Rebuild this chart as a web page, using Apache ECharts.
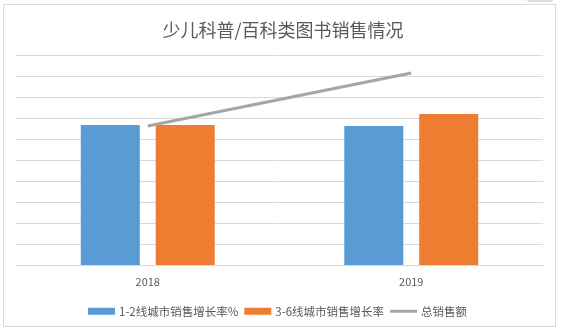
<!DOCTYPE html>
<html>
<head>
<meta charset="utf-8">
<script src="https://cdn.jsdelivr.net/npm/echarts@6/dist/echarts.min.js"></script>
<style>html,body{margin:0;padding:0;background:#fff;}#c{width:566px;height:333px;}</style>
</head>
<body>
<div id="c"></div>
<script>
const categories = ['2018', '2019'];
const growth12 = [6.67, 6.62];
const growth36 = [6.67, 7.19];
const totalSales = [6.62, 9.14];
const seriesNames = ['1-2线城市销售增长率%', '3-6线城市销售增长率', '总销售额'];
const titleText = '少儿科普/百科类图书销售情况';

const chart = echarts.init(document.getElementById('c'));
const font = '"Noto Sans CJK SC", "Microsoft YaHei", sans-serif';
chart.setOption({
  animation: false,
  backgroundColor: '#fff',
  title: {
    text: titleText, left: 'center', top: 16,
    textStyle: { color: '#595959', fontSize: 18, fontWeight: 'normal', fontFamily: font }
  },
  graphic: [
    { type: 'rect', shape: { x: 3.5, y: 4.5, width: 552, height: 322 }, style: { fill: 'none', stroke: '#d9d9d9', lineWidth: 1 }, silent: true },
    { type: 'rect', shape: { x: 528, y: -1, width: 24, height: 2 }, style: { fill: 'none', stroke: '#bfbfbf', lineWidth: 1 }, silent: true }
  ],
  legend: {
    bottom: 11, left: 83, itemWidth: 27, itemHeight: 7, itemGap: 6,
    textStyle: { color: '#595959', fontSize: 11.5, fontFamily: font, padding: [0, 0, 0, -1] },
    data: [
      { name: seriesNames[0], icon: 'rect' },
      { name: seriesNames[1], icon: 'rect' },
      { name: seriesNames[2], icon: 'path://M0,0H28V3H0Z' }
    ]
  },
  grid: { left: 16, right: 23, top: 55, bottom: 68, containLabel: false },
  xAxis: {
    type: 'category', data: categories,
    axisLine: { show: true, lineStyle: { color: '#d9d9d9' } },
    axisTick: { show: false },
    axisLabel: { color: '#595959', fontSize: 11, margin: 11, fontFamily: font }
  },
  yAxis: {
    type: 'value', min: 0, max: 10, interval: 1,
    axisLabel: { show: false }, axisLine: { show: false }, axisTick: { show: false },
    splitLine: { lineStyle: { color: '#d9d9d9' } }
  },
  series: [
    { name: seriesNames[0], type: 'bar', data: growth12, barWidth: 59, barGap: '27%', itemStyle: { color: '#5b9bd5' } },
    { name: seriesNames[1], type: 'bar', data: growth36, barWidth: 59, barGap: '27%', itemStyle: { color: '#ed7d31' } },
    { name: seriesNames[2], type: 'line', data: totalSales, symbol: 'none', lineStyle: { color: '#a5a5a5', width: 3 }, itemStyle: { color: '#a5a5a5' } }
  ]
});
</script>
</body>
</html>
